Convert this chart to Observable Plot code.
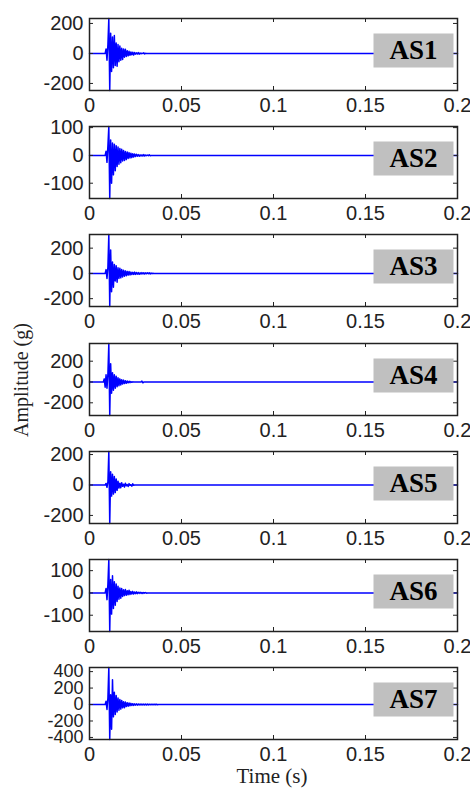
<!DOCTYPE html>
<html><head><meta charset="utf-8">
<script src="https://cdn.jsdelivr.net/npm/d3@7"></script>
<script src="https://cdn.jsdelivr.net/npm/@observablehq/plot@0.6"></script>
<style>
body{margin:0;background:#fff;}
#wrap{position:relative;width:470px;height:790px;overflow:hidden;background:#fff;}
.panel{position:absolute;left:0;}
#ylab{position:absolute;left:21px;top:380px;transform:translate(-50%,-50%) rotate(-90deg);font-family:"Liberation Serif",serif;font-size:20px;white-space:nowrap;color:#222;}
#xlab{position:absolute;left:272px;top:776px;transform:translate(-50%,-50%);font-family:"Liberation Serif",serif;font-size:21px;white-space:nowrap;color:#222;}
</style></head><body><div id="wrap"><div id="ylab">Amplitude (g)</div><div id="xlab">Time (s)</div></div>
<script>
// shared time base (s)
const time = [0, 0.0075, 0.008, 0.0085, 0.009, 0.0095, 0.010, 0.0105, 0.011, 0.0115,
  0.012, 0.0125, 0.013, 0.0135, 0.014, 0.0145, 0.015, 0.0155, 0.016, 0.0165,
  0.017, 0.0175, 0.018, 0.0185, 0.019, 0.0195, 0.020, 0.0205, 0.021, 0.0215,
  0.022, 0.0225, 0.023, 0.0235, 0.024, 0.0245, 0.025, 0.0255, 0.026, 0.0265,
  0.027, 0.0275, 0.028, 0.0285, 0.029, 0.0295, 0.030, 0.0305, 0.031, 0.0315,
  0.032, 0.0325, 0.033, 0.0335, 0.034, 0.0345, 0.035, 0.0355, 0.036, 0.0365,
  0.037, 0.0375, 0.2];

const as1 = [0, 0, 0, 0, 30, -45, 60, 233, -247, 135,
  -120, 110, -95, 120, -80, 70, -85, 60, -55, 50,
  -45, 35, -40, 30, -25, 28, -20, 18, -16, 14,
  -12, 10, -9, 8, -10, 6, -5, 4, -4, 6,
  -5, 3, -2, 2, -1, 4, -3, 1, -1, 0,
  0, 0, 0, 0, 0, 0, 0, 0, 0, 0,
  0, 0, 0];
const as2 = [0, 0, 0, 0, 15, -25, 35, 104, -155, 55,
  -100, 45, -70, 40, -55, 35, -40, 30, -32, 25,
  -26, 22, -20, 18, -18, 14, -15, 12, -11, 10,
  -9, 8, -8, 6, -6, 5, -4, 4, -3, 3,
  -3, 2, -2, 2, -2, 3, -2, 1, -1, 1,
  -1, 2, -1, 0, 0, 0, 0, 0, 0, 0,
  0, 0, 0];
const as3 = [0, 0, 0, 0, 30, -40, 50, 308, -262, 185,
  -146, 90, -110, 70, -60, 60, -70, 45, -40, 40,
  -35, 30, -28, 25, -22, 20, -18, 16, -14, 15,
  -12, 10, -9, 8, -8, 10, -8, 7, -6, 6,
  -7, 5, -5, 6, -4, 5, -5, 4, -3, 4,
  -3, 5, -4, 3, -2, 1, 0, 0, 0, 0,
  0, 0, 0];
const as4 = [0, 0, 30, -50, 70, -60, 80, 370, -322, 176,
  -107, 90, -80, 70, -60, 55, -45, 40, -35, 30,
  -28, 22, -20, 18, -15, 12, -12, 10, -8, 7,
  -6, 4, -3, 2, -1, 0, 0, 0, 0, 0,
  0, 0, 0, 8, -8, 0, 0, 0, 0, 0,
  0, 0, 0, 0, 0, 0, 0, 0, 0, 0,
  0, 0, 0];
const as5 = [0, 0, 0, 0, 10, -15, 20, 220, -253, 87,
  -73, 70, -60, 55, -50, 40, -35, 25, -20, 12,
  -18, 15, -8, 5, -14, 12, -5, 3, -10, 9,
  -3, 2, -8, 8, -2, 0, 0, 0, 0, 0,
  0, 0, 0, 0, 0, 0, 0, 0, 0, 0,
  0, 0, 0, 0, 0, 0, 0, 0, 0, 0,
  0, 0, 0];
const as6 = [0, 0, 0, 0, 20, -30, 40, 150, -173, 60,
  -95, 77, -70, 50, -55, 40, -38, 30, -28, 22,
  -24, 20, -16, 14, -12, 15, -10, 10, -8, 12,
  -7, 6, -5, 7, -5, 4, -3, 5, -3, 3,
  -2, 3, -2, 2, -2, 2, -1, 2, -1, 0,
  0, 0, 0, 0, 0, 0, 0, 0, 0, 0,
  0, 0, 0];
const as7 = [0, 0, 0, 0, 40, -60, 80, 450, -425, 120,
  -300, 300, -150, 150, -120, 110, -90, 80, -70, 60,
  -55, 50, -40, 35, -38, 30, -25, 22, -20, 18,
  -16, 14, -12, 10, -10, 9, -8, 8, -7, 7,
  -6, 6, -6, 6, -5, 5, -5, 5, -5, 5,
  -4, 4, -4, 4, -4, 4, -3, 3, -3, 3,
  -2, 0, 0];

const names = ["AS1", "AS2", "AS3", "AS4", "AS5", "AS6", "AS7"];
const seriesValues = [as1, as2, as3, as4, as5, as6, as7];
const yTicks = [
  [-200, 0, 200],
  [-100, 0, 100],
  [-200, 0, 200],
  [-200, 0, 200],
  [-200, 0, 200],
  [-100, 0, 100],
  [-400, -200, 0, 200, 400]
];
const xTicks = [0, 0.05, 0.1, 0.15, 0.2];
const xTickLabels = ["0", "0.05", "0.1", "0.15", "0.2"];

const frameTops = [18, 126, 234, 343, 451, 559, 667];
const M_TOP = 6, FRAME_H = 72, M_BOTTOM = 32, M_LEFT = 89, M_RIGHT = 13, W = 470;
const FRAME_W = W - M_LEFT - M_RIGHT;
const wrap = document.getElementById("wrap");

seriesValues.forEach((vals, i) => {
  const data = time.map((t, k) => ({t, v: vals[k]}));
  const [lo, hi] = d3.extent(vals);
  const dense = yTicks[i].length > 3;
  const chart = Plot.plot({
    width: W,
    height: M_TOP + FRAME_H + M_BOTTOM,
    marginLeft: M_LEFT, marginRight: M_RIGHT, marginTop: M_TOP, marginBottom: M_BOTTOM,
    style: {fontFamily: "'Liberation Sans', Arial, sans-serif", fontSize: "20px", color: "#222", background: "transparent", overflow: "visible"},
    x: {domain: [0, 0.2]},
    y: {domain: [lo, hi]},
    marks: [
      Plot.lineY(data, {x: "t", y: "v", stroke: "#0000ff", strokeWidth: 1.5}),
      Plot.tickX(xTicks, {x: d => d, insetTop: FRAME_H - 4, stroke: "#222"}),
      Plot.tickX(xTicks, {x: d => d, insetBottom: FRAME_H - 4, stroke: "#222"}),
      Plot.tickY(yTicks[i], {y: d => d, insetRight: FRAME_W - 4, stroke: "#222"}),
      Plot.tickY(yTicks[i], {y: d => d, insetLeft: FRAME_W - 4, stroke: "#222"}),
      Plot.frame({fill: "#c0c0c0", stroke: "none", insetLeft: 284, insetRight: 4, insetTop: 15, insetBottom: 23}),
      Plot.text([names[i]], {text: d => d, frameAnchor: "right", dx: -44, dy: -4, textAnchor: "middle",
        fontFamily: "'Liberation Serif', 'Times New Roman', serif", fontWeight: "bold", fontSize: 27, fill: "#000"}),
      Plot.frame({stroke: "#222", strokeWidth: 1.5}),
      Plot.axisX(xTicks, {tickSize: 0, tickPadding: 7, tickFormat: d => xTickLabels[xTicks.indexOf(d)], label: null}),
      Plot.axisY(yTicks[i], {tickSize: 0, tickPadding: 6, tickFormat: d => String(d), label: null, fontSize: dense ? 18 : 20})
    ]
  });
  chart.classList.add("panel");
  chart.style.top = (frameTops[i] - M_TOP) + "px";
  chart.style.position = "absolute";
  wrap.appendChild(chart);
});
</script>
</body></html>
